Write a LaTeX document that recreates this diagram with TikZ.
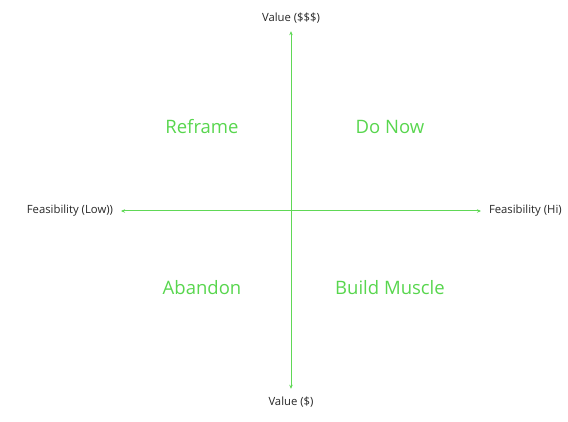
\documentclass[tikz,border=0pt]{standalone}
\usepackage{fontspec}
\setmainfont{Open Sans}
\usetikzlibrary{arrows.meta,positioning}

\definecolor{quadgreen}{RGB}{88,214,78}
\definecolor{axisgreen}{RGB}{96,216,86}

\begin{document}
\begin{tikzpicture}[
    x=1pt, y=1pt,
    axislabel/.style={font=\fontsize{11.3}{13}\selectfont, text=black!85, inner sep=2pt, outer sep=6pt},
    quadrant/.style={font=\fontsize{18.5}{22}\selectfont, text=quadgreen},
    axis/.style={{Stealth[length=4pt,width=3.5pt]}-{Stealth[length=4pt,width=3.5pt]}, line width=1pt, draw=axisgreen},
]

\useasboundingbox (0,0) rectangle (568,-422);

% Axis labels
\node[axislabel] (vhi) at (291,-18) {Value (\$\$\$)};
\node[axislabel] (vlo) at (291,-402) {Value (\$)};
\node[axislabel, anchor=east] (flo) at (121,-211) {Feasibility (Low))};
\node[axislabel, anchor=west] (fhi) at (481,-211) {Feasibility (Hi)};

% Axes
\draw[axis] (vlo) -- (vhi);
\draw[axis] (flo) -- (fhi);

% Quadrants
\node[quadrant] (reframe) at (202,-127) {Reframe};
\node[quadrant] (donow) at (390,-127) {Do Now};
\node[quadrant] (abandon) at (202,-288) {Abandon};
\node[quadrant] (muscle) at (390,-288) {Build Muscle};

\end{tikzpicture}
\end{document}
